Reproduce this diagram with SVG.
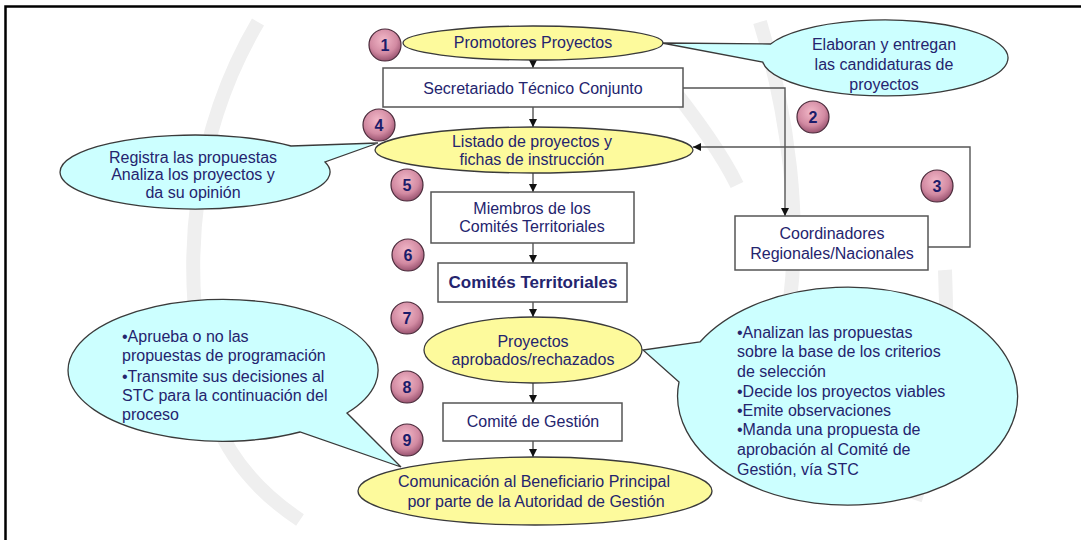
<svg xmlns="http://www.w3.org/2000/svg" width="1081" height="540" viewBox="0 0 1081 540">
<style>
.t{font-family:"Liberation Sans",Arial,sans-serif;font-size:16px;fill:#24246e;}
.c{text-anchor:middle;}
.b{font-weight:bold;font-size:17px;}
.num{font-family:"Liberation Sans",Arial,sans-serif;font-size:16px;font-weight:bold;fill:#1c1c6a;text-anchor:middle;}
.yel{fill:#fdfa9c;stroke:#3a3a3a;stroke-width:1.3;}
.cy{fill:#ccffff;stroke:#3a3a3a;stroke-width:1.3;}
.box{fill:#ffffff;stroke:#555555;stroke-width:1.5;}
.ln{fill:none;stroke:#555555;stroke-width:1.4;}
.wm{fill:none;stroke:#efefef;stroke-width:14;}
.nc{fill:url(#pk);stroke:#4a2a3a;stroke-width:1.2;}
</style>
<defs>
<radialGradient id="pk" cx="0.45" cy="0.35" r="0.7">
<stop offset="0" stop-color="#f2b8c8"/>
<stop offset="0.6" stop-color="#d28aa2"/>
<stop offset="1" stop-color="#8e4866"/>
</radialGradient>
<marker id="ah" viewBox="0 0 10 10" refX="10" refY="5" markerWidth="8" markerHeight="8" markerUnits="userSpaceOnUse" orient="auto">
<path d="M0,0 L10,5 L0,10 Z" fill="#111"/>
</marker>
</defs>
<rect x="0" y="0" width="1081" height="540" fill="#ffffff"/>
<g id="watermark">
<path class="wm" d="M258,22 C200,120 170,260 215,420 C235,470 270,500 300,520"/>
<path class="wm" d="M660,73 C690,110 720,150 737,185"/>
<path class="wm" d="M760,22 C790,120 800,220 790,300"/>
<path class="wm" d="M945,270 C950,360 935,440 915,500"/>
</g>
<g id="frame">
<path d="M5.5,540 L5.5,6.5 L1081,6.5" fill="none" stroke="#000" stroke-width="2.5"/>
</g>
<g id="connectors">
<line class="ln" x1="533" y1="60" x2="533" y2="68" marker-end="url(#ah)"/>
<line class="ln" x1="533" y1="107" x2="533" y2="127" marker-end="url(#ah)"/>
<line class="ln" x1="533" y1="173" x2="533" y2="192" marker-end="url(#ah)"/>
<line class="ln" x1="533" y1="243" x2="533" y2="263" marker-end="url(#ah)"/>
<line class="ln" x1="533" y1="302" x2="533" y2="317" marker-end="url(#ah)"/>
<line class="ln" x1="533" y1="383" x2="533" y2="403" marker-end="url(#ah)"/>
<line class="ln" x1="533" y1="441" x2="533" y2="457" marker-end="url(#ah)"/>
<polyline class="ln" points="683,88 785,88 785,216" marker-end="url(#ah)"/>
<polyline class="ln" points="928,247 970,247 970,147 693,147" marker-end="url(#ah)"/>
</g>
<g id="callout-top">
<path class="cy" d="M770.6,44 A123,38 0 1 1 762.7,62 L662,43 Z"/>
<text class="t c" x="884" y="50">Elaboran y entregan</text>
<text class="t c" x="884" y="70">las candidaturas de</text>
<text class="t c" x="884" y="90">proyectos</text>
</g>
<g id="callout-4">
<path class="cy" d="M291,146 A135,37 0 1 0 325,162 L378,143 Z"/>
<text class="t c" x="193" y="163">Registra las propuestas</text>
<text class="t c" x="193" y="180">Analiza los proyectos y</text>
<text class="t c" x="193" y="198">da su opinión</text>
</g>
<g id="callout-9">
<path class="cy" d="M347,413 A155,71 0 1 0 300,432 L401,467 Z"/>
<text class="t" x="122" y="342">•Aprueba o no las</text>
<text class="t" x="122" y="361">propuestas de programación</text>
<text class="t" x="122" y="381.5">•Transmite sus decisiones al</text>
<text class="t" x="122" y="401">STC para la continuación del</text>
<text class="t" x="122" y="420">proceso</text>
</g>
<g id="callout-7">
<path class="cy" d="M700,342 A170,109 0 1 1 679,382 L643,350 Z"/>
<text class="t" x="737" y="338">•Analizan las propuestas</text>
<text class="t" x="737" y="357">sobre la base de los criterios</text>
<text class="t" x="737" y="377">de selección</text>
<text class="t" x="737" y="397">•Decide los proyectos viables</text>
<text class="t" x="737" y="416">•Emite observaciones</text>
<text class="t" x="737" y="435">•Manda una propuesta de</text>
<text class="t" x="737" y="455">aprobación al Comité de</text>
<text class="t" x="737" y="475">Gestión, vía STC</text>
</g>
<g id="promotores">
<ellipse class="yel" cx="533" cy="43" rx="130" ry="17"/>
<text class="t c" x="533" y="48">Promotores Proyectos</text>
</g>
<g id="secretariado">
<rect class="box" x="383" y="68" width="300" height="39"/>
<text class="t c" x="533" y="94">Secretariado Técnico Conjunto</text>
</g>
<g id="listado">
<ellipse class="yel" cx="534" cy="150" rx="159" ry="23"/>
<text class="t c" x="532" y="147">Listado de proyectos y</text>
<text class="t c" x="532" y="165">fichas de instrucción</text>
</g>
<g id="miembros">
<rect class="box" x="431" y="192" width="203" height="51"/>
<text class="t c" x="532" y="214">Miembros de los</text>
<text class="t c" x="532" y="232">Comités Territoriales</text>
</g>
<g id="coordinadores">
<rect class="box" x="735" y="216" width="193" height="54"/>
<text class="t c" x="832" y="239">Coordinadores</text>
<text class="t c" x="832" y="259">Regionales/Nacionales</text>
</g>
<g id="comites">
<rect class="box" x="438" y="263" width="189" height="39"/>
<text class="t c b" x="533" y="288">Comités Territoriales</text>
</g>
<g id="proyectos">
<ellipse class="yel" cx="533" cy="350" rx="109" ry="33"/>
<text class="t c" x="533" y="347">Proyectos</text>
<text class="t c" x="533" y="365">aprobados/rechazados</text>
</g>
<g id="gestion">
<rect class="box" x="443" y="403" width="179" height="38"/>
<text class="t c" x="533" y="427">Comité de Gestión</text>
</g>
<g id="comunicacion">
<ellipse class="yel" cx="535" cy="491" rx="177" ry="34"/>
<text class="t c" x="534" y="487">Comunicación al Beneficiario Principal</text>
<text class="t c" x="536" y="507">por parte de la Autoridad de Gestión</text>
</g>
<g id="step1"><circle class="nc" cx="385" cy="45" r="16"/><text class="num" x="385" y="51">1</text></g>
<g id="step2"><circle class="nc" cx="813" cy="117" r="16"/><text class="num" x="813" y="123">2</text></g>
<g id="step3"><circle class="nc" cx="937" cy="186" r="16"/><text class="num" x="937" y="192">3</text></g>
<g id="step4"><circle class="nc" cx="379" cy="125" r="16"/><text class="num" x="379" y="131">4</text></g>
<g id="step5"><circle class="nc" cx="407" cy="185" r="16"/><text class="num" x="407" y="191">5</text></g>
<g id="step6"><circle class="nc" cx="408" cy="255" r="16"/><text class="num" x="408" y="261">6</text></g>
<g id="step7"><circle class="nc" cx="407" cy="318" r="16"/><text class="num" x="407" y="324">7</text></g>
<g id="step8"><circle class="nc" cx="407" cy="387" r="16"/><text class="num" x="407" y="393">8</text></g>
<g id="step9"><circle class="nc" cx="407" cy="440" r="16"/><text class="num" x="407" y="446">9</text></g>
</svg>
